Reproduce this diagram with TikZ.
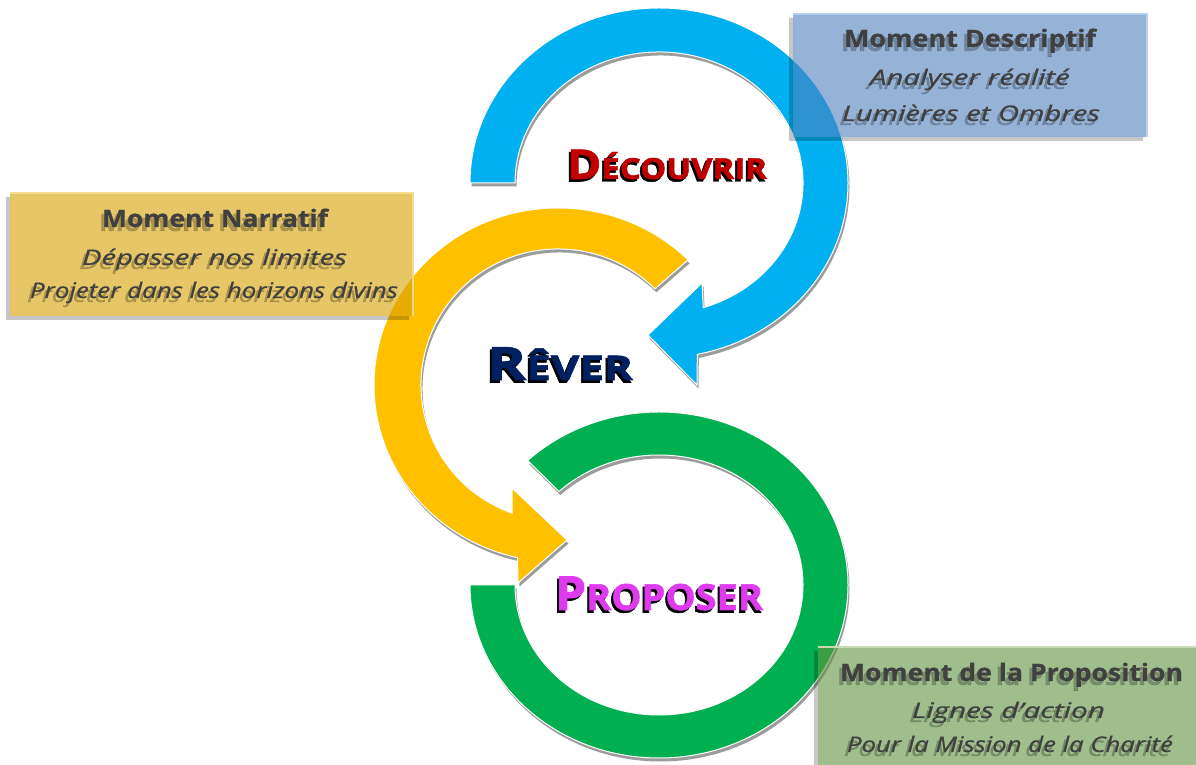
\documentclass[tikz,border=0pt]{standalone}
\usepackage{fontspec}
\setmainfont{Open Sans}
\newfontfamily\ttlfont{Open Sans}[BoldFeatures={FakeBold=1.6}]
\newfontfamily\boxfont{Open Sans}[BoldFeatures={FakeBold=0.6},ItalicFeatures={FakeBold=0.5}]
\usepackage{graphicx}
\definecolor{cblue}{HTML}{00B0F0}
\definecolor{cyellow}{HTML}{FFC000}
\definecolor{cgreen}{HTML}{00B050}
\definecolor{shadowgray}{HTML}{9C9C9C}
\definecolor{txtgray}{HTML}{404040}
\definecolor{bluebox}{HTML}{4F81BD}
\definecolor{yellowbox}{HTML}{D6A000}
\definecolor{greenbox}{HTML}{61933F}
\definecolor{bluebord}{HTML}{B8D0EE}
\definecolor{yellowbord}{HTML}{F6DC8C}
\definecolor{greenbord}{HTML}{C6DAB4}
\definecolor{titred}{HTML}{C00000}
\definecolor{titnavy}{HTML}{002060}
\definecolor{titmag}{HTML}{DE3BEF}
\newsavebox\fitbox
\newdimen\fitwd
\makeatletter
\newcommand\fitto[2]{\sbox\fitbox{#2}\fitwd=\wd\fitbox\pgfmathsetmacro\myscl{#1/\strip@pt\fitwd}\scalebox{\myscl}[1]{\usebox\fitbox}}
\makeatother
\tikzset{
  ringshadow/.style={fill=shadowgray},
  ringfill/.style={fill=#1, draw=white, line width=1pt},
  boxtxt/.style={anchor=base, inner sep=0pt, text=txtgray, font=\boxfont},
  boxtxtsh/.style={anchor=base, inner sep=0pt, text=black, opacity=0.25, font=\boxfont},
  ttl/.style={anchor=base, inner sep=0pt, font=\ttlfont\bfseries},
  boxshadowfill/.style={fill=black, opacity=0.22},
  momentbox/.style={fill=#1, fill opacity=0.6},
}
\newcommand\bline[6]{%
  \node[boxtxtsh] (#1s) at (#2-3,#3-4) {#5\fitto{#4}{#6}};
  \node[boxtxt] (#1) at (#2,#3) {#5\fitto{#4}{#6}};
}
\newcommand\ttlnode[9]{%
  \node[ttl, text=black] (#1s) at (#2-2,#3-2.5) {\fitto{#4}{\fontsize{#6}{#6}\selectfont #8\fontsize{#7}{#7}\selectfont #9}};
  \node[ttl, text=#5] (#1) at (#2,#3) {\fitto{#4}{\fontsize{#6}{#6}\selectfont #8\fontsize{#7}{#7}\selectfont #9}};
}
\newcommand\Lshadow[4]{%
  \fill[boxshadowfill] (#1-4,#4-4) -- (#1-4,#2-4) -- (#3-4,#2-4) -- (#3-4,#2) -- (#1,#2) -- (#1,#4-4) -- cycle;
}
\newcommand\bluepath{(180:189 and 175) arc[start angle=180,end angle=-78.3,x radius=189,y radius=175] -- (38,-202) -- (-11,-152) -- (43,-100) -- (-72.1:144 and 131) arc[start angle=-72.1,end angle=180,x radius=144,y radius=131] -- cycle}
\newcommand\yellowpath{(45:184 and 177) arc[start angle=45,end angle=257.3,x radius=184,y radius=177] -- (-40,-198) -- (9,-155) -- (-46,-103) -- (250.4:137 and 136) arc[start angle=250.4,end angle=45,x radius=137,y radius=136] -- cycle}
\newcommand\greenpath{(180:189 and 173) arc[start angle=180,end angle=494,x radius=189,y radius=173] -- (494:144 and 130) arc[start angle=494,end angle=180,x radius=144,y radius=130] -- cycle}
\begin{document}
\begin{tikzpicture}[x=1pt,y=1pt]
\useasboundingbox (0,0) rectangle (1196,765);
\fill[white] (0,0) rectangle (1196,765);
% rings
\begin{scope}[shift={(659,582)}]
  \fill[ringshadow, shift={(1.5,-3.5)}] \bluepath;
  \path[ringfill=cblue] \bluepath;
\end{scope}
\begin{scope}[shift={(558,380)}]
  \fill[ringshadow, shift={(1.5,-3.5)}] \yellowpath;
  \path[ringfill=cyellow] \yellowpath;
\end{scope}
\begin{scope}[shift={(659,180)}]
  \fill[ringshadow, shift={(1.5,-3.5)}] \greenpath;
  \path[ringfill=cgreen] \greenpath;
\end{scope}
% boxes
\Lshadow{793}{628}{1147}{751}
\fill[momentbox=bluebox] (793,628) rectangle (1147,751);
\draw[bluebord, line width=1.2pt] (793,751) -- (1147,751) -- (1147,628);
\Lshadow{10}{449}{413}{572}
\fill[momentbox=yellowbox] (10,449) rectangle (413,572);
\draw[yellowbord, line width=1.2pt] (10,572) -- (413,572) -- (413,449);
\Lshadow{818}{-5}{1200}{118}
\fill[momentbox=greenbox] (818,-5) rectangle (1200,118);
\draw[greenbord, line width=1.2pt] (818,118) -- (1200,118);
% box texts
\bline{b1}{970}{718}{252}{\bfseries\fontsize{24}{24}\selectfont}{Moment Descriptif}
\bline{b2}{970}{680}{200}{\itshape\fontsize{21.5}{22}\selectfont}{Analyser réalité}
\bline{b3}{971}{644}{258}{\itshape\fontsize{21.5}{22}\selectfont}{Lumières et Ombres}
\bline{y1}{215}{538}{226}{\bfseries\fontsize{24}{24}\selectfont}{Moment Narratif}
\bline{y2}{214.5}{500}{265}{\itshape\fontsize{21.5}{22}\selectfont}{Dépasser nos limites}
\bline{y3}{214}{467}{368}{\itshape\fontsize{21.5}{22}\selectfont}{Projeter dans les horizons divins}
\bline{g1}{1011.5}{84}{343}{\bfseries\fontsize{24}{24}\selectfont}{Moment de la Proposition}
\bline{g2}{1008.5}{47}{193}{\itshape\fontsize{21.5}{22}\selectfont}{Lignes d’action}
\bline{g3}{1010}{13}{326}{\itshape\fontsize{21.5}{22}\selectfont}{Pour la Mission de la Charité}
% titles
\ttlnode{t1}{667}{586}{200}{titred}{41}{29}{D}{ÉCOUVRIR}
\ttlnode{t2}{560}{385}{146}{titnavy}{46}{34}{R}{ÊVER}
\ttlnode{t3}{659}{155}{208}{titmag}{47}{36}{P}{ROPOSER}
\end{tikzpicture}
\end{document}
